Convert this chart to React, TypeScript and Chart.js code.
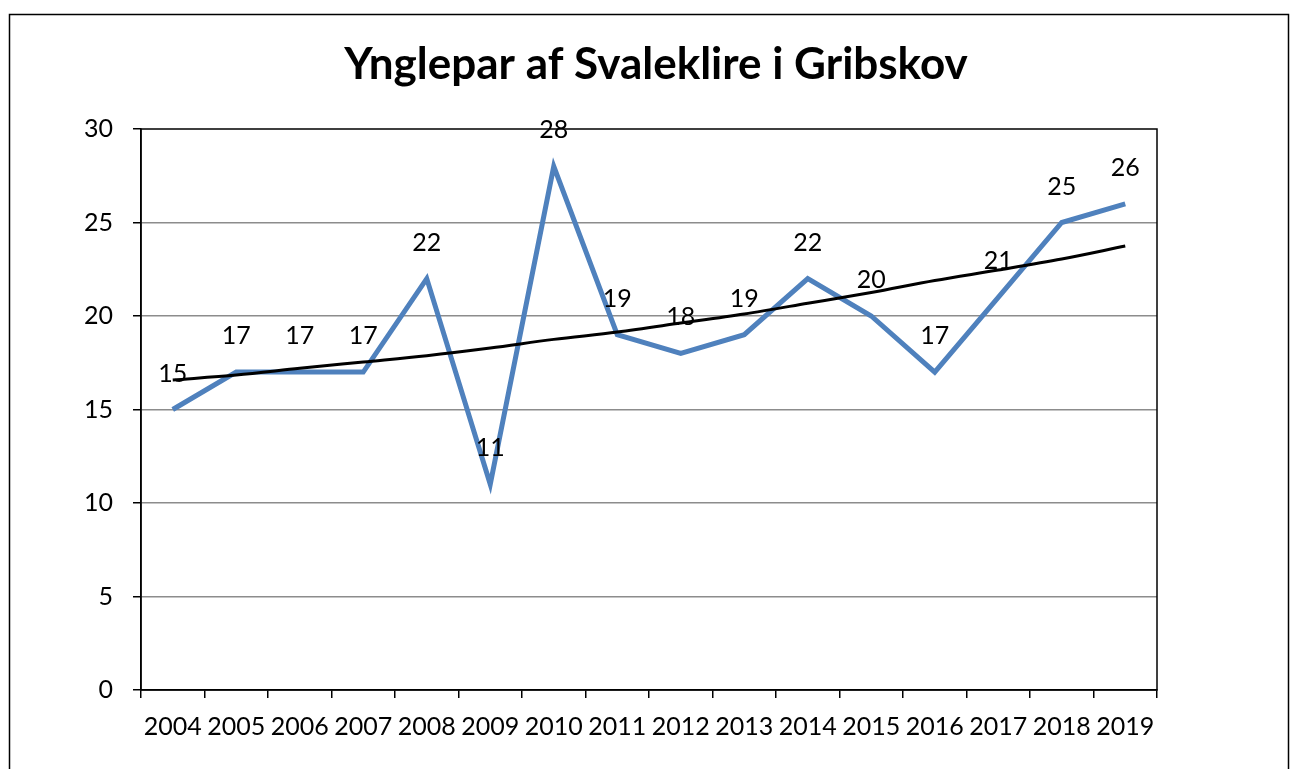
import React, { useEffect, useRef } from "react";
import { Chart, registerables } from "chart.js";

Chart.register(...registerables);

const titleText = "Ynglepar af Svaleklire i Gribskov";
const years = ["2004","2005","2006","2007","2008","2009","2010","2011","2012","2013","2014","2015","2016","2017","2018","2019"];
const pairs = [15, 17, 17, 17, 22, 11, 28, 19, 18, 19, 22, 20, 17, 21, 25, 26];
const trend = [16.58, 16.84, 17.2, 17.54, 17.88, 18.29, 18.75, 19.14, 19.62, 20.11, 20.68, 21.26, 21.9, 22.46, 23.05, 23.74];
const yTicks = [0, 5, 10, 15, 20, 25, 30];

const FONT = "Lato";

export default function App() {
  const ref = useRef<HTMLCanvasElement | null>(null);
  useEffect(() => {
    if (!ref.current) return;
    const framePlugin = {
      id: "frame",
      beforeDraw(chart: any) {
        const c = chart.ctx;
        c.save();
        c.fillStyle = "#fff";
        c.fillRect(0, 0, chart.width, chart.height);
        c.strokeStyle = "#000";
        c.lineWidth = 1.5;
        c.strokeRect(9.5, 14.5, 1279, 800);
        c.fillStyle = "#000";
        c.font = `bold 44px ${FONT}`;
        c.textAlign = "center";
        c.textBaseline = "middle";
        c.fillText(titleText, 656, 65);
        c.restore();
      },
      beforeDatasetsDraw(chart: any) {
        const a = chart.chartArea;
        const c = chart.ctx;
        c.save();
        c.strokeStyle = "#000";
        c.lineWidth = 1.5;
        c.strokeRect(a.left, a.top, a.right - a.left, a.bottom - a.top);
        c.restore();
      },
      afterDatasetsDraw(chart: any) {
        const meta = chart.getDatasetMeta(1);
        const c = chart.ctx;
        c.save();
        c.fillStyle = "#000";
        c.font = `25px ${FONT}`;
        c.textAlign = "center";
        c.textBaseline = "middle";
        meta.data.forEach((p: any, i: number) => {
          c.fillText(String(pairs[i]), p.x, p.y - 36);
        });
        c.restore();
      },
    };
    const chart = new Chart(ref.current, {
      type: "line",
      data: {
        labels: years,
        datasets: [
          {
            label: "Trend",
            data: trend,
            borderColor: "#000",
            borderWidth: 3,
            pointRadius: 0,
            cubicInterpolationMode: "monotone",
            order: 0,
          },
          {
            label: "Ynglepar",
            data: pairs,
            borderColor: "#4F81BD",
            borderWidth: 5,
            pointRadius: 0,
            tension: 0,
            order: 1,
          },
        ],
      },
      options: {
        responsive: false,
        animation: false,
        layout: { padding: { top: 129, right: 136, bottom: 0, left: 0 } },
        plugins: { legend: { display: false }, title: { display: false }, tooltip: { enabled: false } },
        scales: {
          x: {
            type: "category",
            offset: true,
            grid: { offset: true, drawOnChartArea: false, tickLength: 8, color: "#000", lineWidth: 1.5 },
            border: { display: true, color: "#000", width: 1.5 },
            ticks: { color: "#000", font: { family: FONT, size: 25 }, padding: 14, maxRotation: 0, autoSkip: false },
            afterFit: (s: any) => { s.height = 79; },
          },
          y: {
            min: 0,
            max: 30,
            afterBuildTicks: (s: any) => { s.ticks = yTicks.map((v) => ({ value: v })); },
            grid: {
              color: (ctx: any) => (ctx.tick && (ctx.tick.value === 0 || ctx.tick.value === 30) ? "rgba(0,0,0,0)" : "#8c8c8c"),
              tickColor: "#000",
              tickLength: 8,
              lineWidth: 1.5,
            },
            border: { display: true, color: "#000", width: 1.5 },
            ticks: { color: "#000", font: { family: FONT, size: 25 }, padding: 20 },
            afterFit: (s: any) => { s.width = 141; },
          },
        },
      },
      plugins: [framePlugin],
    });
    return () => chart.destroy();
  }, []);
  return (
    <div style={{ position: "fixed", left: 0, top: 0, width: 1293, height: 769, background: "#fff" }}>
      <canvas ref={ref} width={1293} height={769} style={{ width: 1293, height: 769, display: "block" }} />
    </div>
  );
}
